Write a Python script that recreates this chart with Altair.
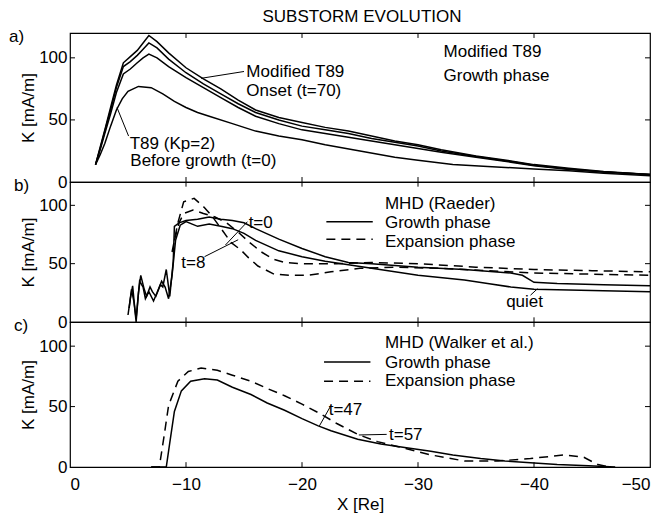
import altair as alt
import pandas as pd

FONT = "Liberation Sans"
FS = 17

# ---------------- panel a : T89 / modified T89 ----------------
a_x_mod = [-2.2, -2.6, -3.0, -3.5, -4.0, -4.6, -5.2, -5.8, -6.3, -6.8, -7.5, -8.5, -10, -11.5,
           -13, -14.5, -16, -18, -20, -22, -24, -26, -28, -30, -32, -35, -38, -40, -43, -46, -50]
a_onset = [14, 28, 42, 60, 78, 96, 101, 106, 112, 118, 113, 104, 92, 83,
           75, 66, 58, 52, 48, 44, 41, 37, 33, 30, 26, 21, 17, 14, 11, 8.5, 6]
a_mod2 = [14, 27, 41, 58, 76, 93, 97, 102, 107, 112, 108, 99, 88, 79,
          71, 63, 56, 50, 45, 42, 39, 35, 32, 29, 25, 20.5, 16.5, 13.5, 10.5, 8, 6]
a_mod3 = [14, 26, 39, 55, 72, 87, 91, 96, 100, 103, 100, 93, 84, 76,
          68, 60, 53, 47, 42, 39, 36, 33, 30, 27, 24, 20, 16, 13, 10, 8, 6]
a_x_t89 = [-2.2, -2.6, -3.0, -3.5, -4.0, -4.5, -5.0, -5.9, -7, -8, -9, -10, -11, -12, -14, -16,
           -18, -20, -22, -25, -28, -30, -33, -36, -40, -43, -46, -50]
a_t89 = [14, 22, 31, 45, 58, 67, 73, 77, 76, 71, 65, 60, 56, 53, 47, 41,
         37, 34, 30, 25, 20, 17.5, 14, 12.5, 10.5, 9, 7, 5]

# ---------------- panel b : MHD (Raeder) ----------------
b_x_s1 = [-5.0, -5.2, -5.4, -5.6, -5.7, -5.9, -6.1, -6.4, -6.6, -6.9, -7.1, -7.4, -7.8, -8.0, -8.3,
          -8.6, -8.9, -9.0, -9.4, -10, -11, -12, -13, -14, -15, -16, -18, -20, -22, -24, -26,
          -30, -34, -38, -39, -40, -42, -46, -50]
b_s1 = [6, 20, 31, 10, 0, 25, 40, 28, 22, 30, 26, 22, 32, 30, 45,
        22, 52, 82, 85, 87, 88, 90, 88, 87, 85, 80, 71, 63, 56, 51, 50,
        47, 45, 42, 40, 34, 33, 32, 31]
b_x_s2 = [-5.1, -5.3, -5.5, -5.7, -6.0, -6.3, -6.5, -6.8, -7.2, -7.5, -7.9, -8.2, -8.5, -8.8, -9.1,
          -9.5, -10, -11, -12, -13, -14, -15, -16, -18, -20, -22, -24, -26, -28, -30, -34, -36,
          -38, -40, -45, -50]
b_s2 = [12, 28, 18, 3, 35, 30, 20, 26, 18, 25, 35, 30, 20, 40, 70,
        83, 86, 82, 84, 82, 80, 76, 70, 61, 56, 52, 49, 46, 43, 40, 36, 33,
        30, 28, 27, 26]
b_x_d1 = [-8.8, -9.3, -9.8, -10.7, -11.6, -12.3, -13.1, -13.9, -14.7, -15.4, -16.2, -17.6, -19,
          -20.5, -22.5, -25, -28, -32, -36, -40, -45, -50]
b_d1 = [60, 85, 103, 106, 98, 90, 79, 68, 62, 55, 48, 41, 40,
        40, 43, 46, 47, 46, 44, 42, 41, 40]
b_x_d2 = [-9.0, -9.4, -9.8, -10.6, -11.5, -12.5, -13.5, -14.5, -15.5, -16.5, -17.5, -18.5, -20,
          -23, -26, -30, -35, -40, -45, -50]
b_d2 = [70, 85, 93, 96, 93, 90, 85, 77, 68, 60, 54, 51, 50,
        50, 51, 50, 47, 45, 44, 43]

# ---------------- panel c : MHD (Walker et al.) ----------------
c_x_s = [-7, -8.3, -8.6, -9.0, -9.6, -10.4, -11.6, -12.7, -14, -15.6, -17, -18.5, -20, -21.4, -22.5,
         -24.8, -26.8, -29, -31.1, -33, -35.4, -37.5, -39.7, -42, -44.7, -47]
c_s = [0, 0, 20, 46, 63, 71, 73, 72, 66, 60, 53, 47, 40, 34, 30,
       23, 19, 16, 13, 10, 7, 5, 3.5, 2, 1, 0]
c_x_d = [-7, -7.7, -8.1, -8.5, -9.3, -10.2, -11.3, -12.7, -14, -15.6, -17, -18.5, -20, -21.4, -23,
         -24.8, -26.5, -28.2, -31.1, -34, -36.9, -39.7, -42.6, -44.3, -45.5, -46.5]
c_d = [0, 0, 25, 51, 71, 79, 82, 80, 76, 71, 65, 59, 52, 45, 36,
       27, 21, 17, 10, 5, 5, 7, 10, 8, 2, 0]

# ---------------- axes ----------------
x_label_values = [0, -10, -20, -30, -40, -50]
y_label_values = [0, 50, 100]
x_tick_values = [-10, -20, -30, -40]
y_tick_values = [50, 100]

# ---------------- annotations ----------------
a_texts = [(-15.2, 88.5, "Modified T89"), (-15.2, 73, "Onset (t=70)"),
           (-5.15, 31, "T89 (Kp=2)"), (-5.2, 17, "Before growth (t=0)"),
           (-32.2, 104.5, "Modified T89"), (-32.2, 85, "Growth phase")]
a_leaders = [(-15.0, 89, -11.3, 83.5), (-5.05, 37, -4.05, 60)]

b_texts = [(-27.15, 101, "MHD (Raeder)"), (-27.15, 85, "Growth phase"),
           (-27.15, 69, "Expansion phase"),
           (-15.4, 85, "t=0"), (-9.6, 51, "t=8"), (-37.6, 17.5, "quiet")]
b_leaders = [(-15.3, 86, -13.4, 66), (-11.6, 56, -14.5, 70.5), (-39.7, 23, -40.3, 28.5)]
b_legend = [(-22.1, -26.1, 86, "solid"), (-22.1, -26.1, 71, "dashed")]

c_texts = [(-27.15, 102.5, "MHD (Walker et al.)"), (-27.15, 86, "Growth phase"),
           (-27.15, 71, "Expansion phase"),
           (-22.3, 47, "t=47"), (-27.5, 26.5, "t=57")]
c_leaders = [(-22.5, 51, -21.5, 34), (-27.3, 27, -24.9, 26.5)]
c_legend = [(-21.9, -25.9, 87, "solid"), (-21.9, -25.9, 71, "dashed")]

X_SCALE = alt.Scale(domain=[-50, 0], reverse=True, nice=False)
Y_SCALE = alt.Scale(domain=[0, 120], nice=False)
DASH = [9, 6]
TICK_DX = 0.43   # inward tick length in data units (x)
TICK_DY = 4.0    # inward tick length in data units (y)


def lines_df(series):
    frames = []
    for name, xs, ys in series:
        frames.append(pd.DataFrame({"x": xs, "y": ys, "series": name, "i": list(range(len(xs)))}))
    return pd.concat(frames, ignore_index=True)


def ticks_df():
    rows = []
    for xv in x_tick_values:
        rows.append({"x": xv, "x2": xv, "y": 0, "y2": TICK_DY})
        rows.append({"x": xv, "x2": xv, "y": 120, "y2": 120 - TICK_DY})
    for yv in y_tick_values:
        rows.append({"x": 0, "x2": -TICK_DX, "y": yv, "y2": yv})
        rows.append({"x": -50, "x2": -50 + TICK_DX, "y": yv, "y2": yv})
    return pd.DataFrame(rows)


def panel(solid, dashed, texts, leaders, legend, tag, tag_x, height, bottom):
    if bottom:
        x_axis = alt.Axis(values=x_label_values, tickSize=0, labelPadding=9, title="X [Re]",
                          titlePadding=4, grid=False, domain=False)
    else:
        x_axis = None
    y_axis = alt.Axis(values=y_label_values, tickSize=0, labelPadding=3, title="K [mA/m]",
                      titleX=-33, titleY=height / 2, titleAngle=270, titleBaseline="bottom",
                      grid=False, domain=False)

    def X(field="x"):
        return alt.X(f"{field}:Q", scale=X_SCALE, axis=x_axis)

    def Y(field="y"):
        return alt.Y(f"{field}:Q", scale=Y_SCALE, axis=y_axis)

    layers = []
    layers.append(
        alt.Chart(lines_df(solid)).mark_line(color="black", strokeWidth=1.5).encode(
            x=X(), y=Y(), detail="series:N", order="i:Q")
    )
    if dashed:
        layers.append(
            alt.Chart(lines_df(dashed)).mark_line(color="black", strokeWidth=1.5,
                                                  strokeDash=DASH).encode(
                x=X(), y=Y(), detail="series:N", order="i:Q")
        )
    layers.append(
        alt.Chart(ticks_df()).mark_rule(color="black", strokeWidth=1).encode(
            x=X(), x2="x2:Q", y=Y(), y2="y2:Q")
    )
    ldf = pd.DataFrame(leaders, columns=["x", "y", "x2", "y2"])
    layers.append(
        alt.Chart(ldf).mark_rule(color="black", strokeWidth=1).encode(
            x=X(), x2="x2:Q", y=Y(), y2="y2:Q")
    )
    if legend:
        gdf = pd.DataFrame(legend, columns=["x", "x2", "y", "dash"])
        layers.append(
            alt.Chart(gdf).mark_rule(color="black", strokeWidth=1.5).encode(
                x=X(), x2="x2:Q", y=Y(),
                strokeDash=alt.StrokeDash("dash:N", scale=alt.Scale(
                    domain=["solid", "dashed"], range=[[1, 0], DASH]), legend=None))
        )
    tdf = pd.DataFrame(texts, columns=["x", "y", "label"])
    layers.append(
        alt.Chart(tdf).mark_text(align="left", baseline="middle", font=FONT, fontSize=FS,
                                 color="black").encode(x=X(), y=Y(), text="label:N")
    )
    tagdf = pd.DataFrame({"x": [tag_x], "y": [117], "label": [tag]})
    layers.append(
        alt.Chart(tagdf).mark_text(align="left", baseline="middle", font=FONT, fontSize=FS,
                                   color="black").encode(x=X(), y=Y(), text="label:N")
    )
    return alt.layer(*layers).properties(width=580, height=height)


pa = panel([("onset", a_x_mod, a_onset), ("mod2", a_x_mod, a_mod2), ("mod3", a_x_mod, a_mod3),
            ("t89", a_x_t89, a_t89)], [], a_texts, a_leaders, [], "a)", 5.26, 149, False)
pb = panel([("s1", b_x_s1, b_s1), ("s2", b_x_s2, b_s2)],
           [("d1", b_x_d1, b_d1), ("d2", b_x_d2, b_d2)],
           b_texts, b_leaders, b_legend, "b)", 4.83, 140, False)
pc = panel([("s", c_x_s, c_s)], [("d", c_x_d, c_d)],
           c_texts, c_leaders, c_legend, "c)", 4.83, 145, True)

chart = alt.vconcat(pa, pb, pc, spacing=0, bounds="flush").properties(
    title=alt.TitleParams("SUBSTORM EVOLUTION", font=FONT, fontSize=FS, fontWeight="normal",
                          anchor="middle", offset=1, dx=31, color="black"),
    padding=0,
).configure_view(stroke="black", strokeWidth=1.2).configure_axis(
    labelFont=FONT, labelFontSize=FS, labelColor="black",
    titleFont=FONT, titleFontSize=FS, titleFontWeight="normal", titleColor="black",
)

chart.save("out.html", embed_options={"renderer": "svg", "actions": False})
